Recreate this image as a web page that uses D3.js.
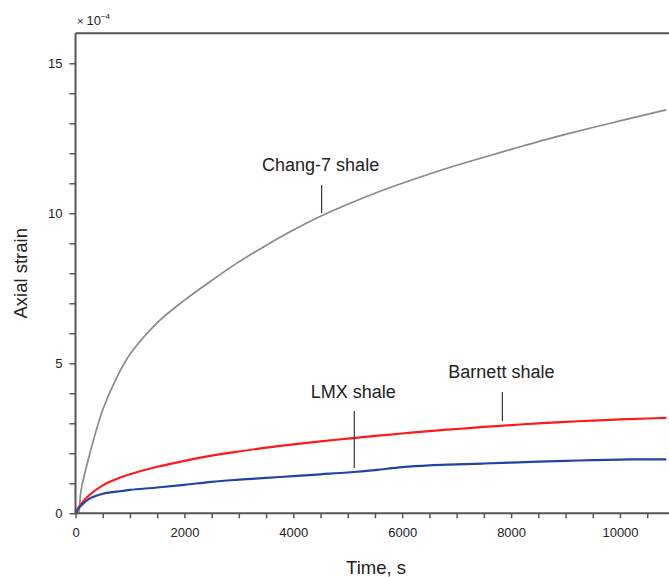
<!DOCTYPE html>
<html>
<head>
<meta charset="utf-8">
<script src="https://cdn.jsdelivr.net/npm/d3@7"></script>
<style>
  html, body { margin: 0; padding: 0; background: #fff; }
  svg { display: block; font-family: "Liberation Sans", Arial, sans-serif; }
</style>
</head>
<body>
<svg id="chart" width="669" height="577"></svg>
<script>
// Creep test: axial strain (×10^-4) against time (s)
const times = [0, 50, 100, 250, 500, 750, 1000, 1500, 2000, 2500, 3000, 3500, 4000, 4500,
  5000, 5500, 6000, 6500, 7000, 7500, 8000, 8500, 9000, 9500, 10000, 10500, 10850];

const chang7 = [0, 0, 0.75, 1.9, 3.45, 4.5, 5.3, 6.35, 7.1, 7.76, 8.38, 8.93, 9.44, 9.9,
  10.3, 10.67, 11.0, 11.31, 11.6, 11.87, 12.13, 12.39, 12.63, 12.86, 13.08, 13.3, 13.45];
const barnett = [0, 0.18, 0.3, 0.6, 0.93, 1.14, 1.3, 1.55, 1.75, 1.92, 2.06, 2.19, 2.3, 2.4,
  2.49, 2.58, 2.66, 2.74, 2.81, 2.88, 2.94, 3.0, 3.05, 3.09, 3.13, 3.16, 3.18];
const lmx = [0, 0.15, 0.25, 0.48, 0.65, 0.72, 0.78, 0.86, 0.95, 1.05, 1.12, 1.18, 1.24, 1.3,
  1.36, 1.44, 1.54, 1.6, 1.63, 1.66, 1.69, 1.72, 1.75, 1.77, 1.79, 1.8, 1.8];

const seriesNames = ["Chang-7 shale", "Barnett shale", "LMX shale"];
const seriesColors = ["#8a8a8a", "#ff1a1a", "#2342a6"];

// Annotation anchors: time where each leader line meets its curve
const labelTimes = [4520, 7840, 5120];

const xTicks = d3.range(0, 10501, 500);
const xLabels = [0, 2000, 4000, 6000, 8000, 10000];
const yTicks = d3.range(0, 16, 1);
const yLabels = [0, 5, 10, 15];

const svg = d3.select("#chart");
const x = d3.scaleLinear().domain([0, 10900]).range([75.5, 669]);
const y = d3.scaleLinear().domain([0, 16]).range([513.3, 33.3]);

const axisColor = "#555";

// Curves
const allSeries = [chang7, barnett, lmx];
const line = d3.line()
  .x((d, i) => x(times[i]))
  .y(d => y(d))
  .curve(d3.curveCatmullRom.alpha(0.5));

allSeries.forEach((vals, k) => {
  svg.append("path")
    .datum(vals)
    .attr("fill", "none")
    .attr("stroke", seriesColors[k])
    .attr("stroke-width", k === 0 ? 1.7 : 2.2)
    .attr("stroke-linejoin", "round")
    .attr("d", line);
});

// Top frame line
svg.append("line")
  .attr("x1", x(0)).attr("x2", x(10900))
  .attr("y1", y(16)).attr("y2", y(16))
  .attr("stroke", axisColor).attr("stroke-width", 2);

// X axis
const xAxis = svg.append("g")
  .attr("transform", `translate(0,${y(0)})`)
  .call(d3.axisBottom(x).tickValues(xTicks).tickSize(5).tickPadding(9)
    .tickFormat(d => xLabels.includes(d) ? String(d) : ""));
xAxis.select(".domain").attr("stroke", axisColor).attr("stroke-width", 2)
  .attr("d", `M${x(0)},0H${x(10900)}`);
xAxis.selectAll(".tick line").attr("stroke", axisColor).attr("stroke-width", 1.5);
xAxis.selectAll(".tick text").attr("font-size", 13).attr("fill", "#222")
  .attr("font-family", "Liberation Sans, Arial, sans-serif");

// Y axis
const yAxis = svg.append("g")
  .attr("transform", `translate(${x(0)},0)`)
  .call(d3.axisLeft(y).tickValues(yTicks).tickSize(6).tickPadding(7)
    .tickFormat(d => yLabels.includes(d) ? String(d) : ""));
yAxis.select(".domain").attr("stroke", axisColor).attr("stroke-width", 2)
  .attr("d", `M0,${y(0)}V${y(16)}`);
yAxis.selectAll(".tick line").attr("stroke", axisColor).attr("stroke-width", 1.5);
yAxis.selectAll(".tick text").attr("font-size", 13).attr("fill", "#222")
  .attr("font-family", "Liberation Sans, Arial, sans-serif");

// Exponent marker
const expo = svg.append("text")
  .attr("x", 77).attr("y", 25)
  .attr("font-size", 13).attr("fill", "#222");
expo.append("tspan").attr("font-size", 11).text("×");
expo.append("tspan").attr("dx", 3).text("10");
expo.append("tspan").attr("font-size", 8).attr("dy", -6).text("−4");

// Axis titles
svg.append("text")
  .attr("x", 376).attr("y", 574)
  .attr("text-anchor", "middle")
  .attr("font-size", 18.5).attr("fill", "#222")
  .text("Time, s");

svg.append("text")
  .attr("transform", `translate(27,${(y(0) + y(16)) / 2}) rotate(-90)`)
  .attr("text-anchor", "middle")
  .attr("font-size", 18.5).attr("fill", "#222")
  .text("Axial strain");

// Curve annotations with leader lines
const leaderTop = [185, 392, 411];
const leaderBottom = [213, 421, 468];
const labelBaseline = [171, 378, 398];

seriesNames.forEach((name, k) => {
  const lx = x(labelTimes[k]);
  svg.append("line")
    .attr("x1", lx).attr("x2", lx)
    .attr("y1", leaderTop[k]).attr("y2", leaderBottom[k])
    .attr("stroke", "#333").attr("stroke-width", 1.2);
  svg.append("text")
    .attr("x", lx - 1).attr("y", labelBaseline[k])
    .attr("text-anchor", "middle")
    .attr("font-size", 18).attr("fill", "#222")
    .text(name);
});
</script>
</body>
</html>
